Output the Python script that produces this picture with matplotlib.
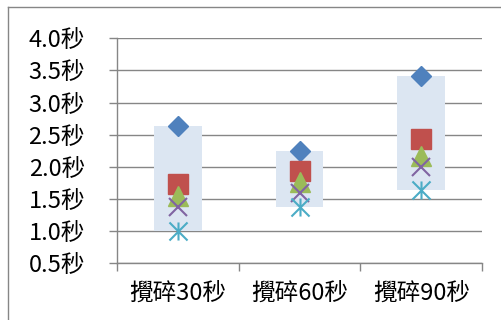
import matplotlib
matplotlib.use("Agg")
import matplotlib.pyplot as plt
import numpy as np
from matplotlib.path import Path
from matplotlib.lines import Line2D

plt.rcParams['font.family'] = ['Noto Sans CJK TC', 'DejaVu Sans']

categories = ["攪碎30秒", "攪碎60秒", "攪碎90秒"]
s_diamond = [2.63, 2.24, 3.41]
s_square = [1.73, 1.94, 2.44]
s_triangle = [1.54, 1.77, 2.17]
s_cross = [1.38, 1.60, 2.00]
s_star = [1.00, 1.37, 1.64]
y_ticks = [0.5, 1.0, 1.5, 2.0, 2.5, 3.0, 3.5, 4.0]
y_labels = ["0.5秒", "1.0秒", "1.5秒", "2.0秒", "2.5秒", "3.0秒", "3.5秒", "4.0秒"]

W, H = 501, 320
fig = plt.figure(figsize=(W / 100, H / 100), dpi=100)
ax = fig.add_axes([117 / W, 1 - 263.3 / H, (482 - 117) / W, (263.3 - 38.3) / H])

x = np.arange(len(categories)) + 0.5
allv = np.array([s_diamond, s_square, s_triangle, s_cross, s_star])
hi = allv.max(axis=0)
lo = allv.min(axis=0)

gray = '#868686'
ax.bar(x, hi - lo, bottom=lo, width=0.39, color='#DCE6F2', zorder=2)

star_path = Path([(-1, -1), (1, 1), (-1, 1), (1, -1), (0, -1), (0, 1)],
                 [Path.MOVETO, Path.LINETO, Path.MOVETO, Path.LINETO, Path.MOVETO, Path.LINETO])

ax.plot(x, s_diamond, linestyle='none', marker='D', ms=10, color='#4F81BD', zorder=3)
ax.plot(x, s_square, linestyle='none', marker='s', ms=14, color='#C0504D', zorder=3)
ax.plot(x, s_triangle, linestyle='none', marker='^', ms=14, color='#9BBB59', zorder=4)
ax.plot(x, s_cross, linestyle='none', marker='x', ms=13, mew=1.5, color='#8064A2', zorder=5)
ax.plot(x, s_star, linestyle='none', marker=star_path, ms=13, mew=1.5, color='#4BACC6',
        markerfacecolor='none', zorder=5)

ax.set_xlim(0, 3)
ax.set_ylim(0.5, 4.0)
ax.set_yticks(y_ticks)
ax.set_yticklabels(y_labels, fontsize=17)
ax.set_xticks([0, 1, 2, 3])
ax.set_xticklabels([])
ax.set_xticks(x, minor=True)
ax.set_xticklabels(categories, minor=True, fontsize=17)
ax.tick_params(axis='x', which='minor', length=0, pad=13)
ax.tick_params(axis='x', which='major', length=6, width=1, color=gray, direction='out')
ax.tick_params(axis='y', length=6, width=1, color=gray, direction='out', pad=17)
for lab in ax.get_yticklabels():
    lab.set_horizontalalignment('right')

ax.grid(axis='y', color=gray, linewidth=1.0, zorder=1)
ax.set_axisbelow(True)
for side in ['top', 'right']:
    ax.spines[side].set_visible(False)
ax.spines['left'].set_color(gray)
ax.spines['bottom'].set_color(gray)
ax.spines['left'].set_linewidth(1.0)
ax.spines['bottom'].set_linewidth(1.0)

# chart area frame (left and top edges visible)
fig.add_artist(Line2D([8 / W, 8 / W], [0, 1 - 7 / H], transform=fig.transFigure, color=gray, lw=1.0))
fig.add_artist(Line2D([8 / W, 1], [1 - 7 / H, 1 - 7 / H], transform=fig.transFigure, color=gray, lw=1.0))

fig.savefig("out.png", dpi=100)
